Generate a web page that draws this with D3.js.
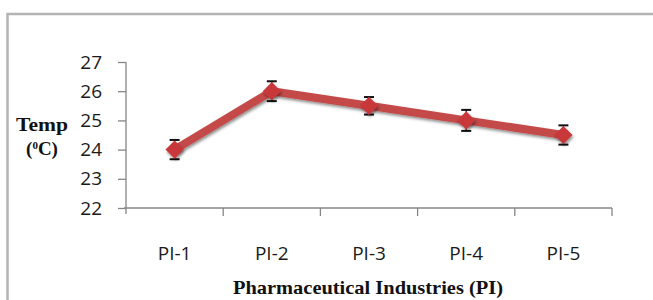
<!DOCTYPE html>
<html>
<head>
<meta charset="utf-8">
<script src="https://cdn.jsdelivr.net/npm/d3@7"></script>
<style>
  body { margin: 0; background: #fff; }
  svg { display: block; }
</style>
</head>
<body>
<svg id="chart" width="653" height="300"></svg>
<script>
// data
var categories = ["PI-1", "PI-2", "PI-3", "PI-4", "PI-5"];
var temps = [24.0, 26.0, 25.5, 25.0, 24.5];
var errors = [0.33, 0.34, 0.3, 0.36, 0.33];
var yTicks = [22, 23, 24, 25, 26, 27];

var margin = {top: 62, right: 41, bottom: 92, left: 126},
    width = 653 - margin.left - margin.right,
    height = 300 - margin.top - margin.bottom;

var svg = d3.select("#chart");

// outer frame (goes past the right and bottom edges)
svg.append("path")
    .attr("d", "M7.5,300 V14 H653")
    .attr("fill", "none")
    .attr("stroke", "#b4b4b4")
    .attr("stroke-width", 2.5);

var defs = svg.append("defs");
var shadow = defs.append("filter").attr("id", "shadow")
    .attr("x", "-50%").attr("y", "-50%").attr("width", "200%").attr("height", "200%");
shadow.append("feDropShadow")
    .attr("dx", 1).attr("dy", 2).attr("stdDeviation", 1.5)
    .attr("flood-color", "#000").attr("flood-opacity", 0.45);

var g = svg.append("g")
    .attr("transform", "translate(" + margin.left + "," + margin.top + ")");

var x = d3.scaleBand().domain(categories).range([0, width]);
var y = d3.scaleLinear().domain([22, 27]).range([height, 0]);

// y axis
var yAxis = g.append("g")
    .call(d3.axisLeft(y).tickValues(yTicks).tickFormat(d3.format("d"))
      .tickSize(8).tickPadding(16).tickSizeOuter(0));
yAxis.select(".domain").attr("stroke", "#868686").attr("stroke-width", 1.3)
    .attr("d", "M0,0 V" + (height + 6));
yAxis.selectAll(".tick line").attr("stroke", "#868686").attr("stroke-width", 1.3);
yAxis.selectAll(".tick text")
    .attr("fill", "#1a1a1a")
    .style("font-family", "'Open Sans', sans-serif")
    .style("font-size", "19px");

// x axis, ticks at band edges
var xAxisG = g.append("g").attr("transform", "translate(0," + height + ")");
xAxisG.append("line")
    .attr("x1", -2).attr("x2", width)
    .attr("stroke", "#868686").attr("stroke-width", 1.3);
var edges = categories.map(function(c) { return x(c) + x.bandwidth(); });
xAxisG.selectAll(".xt").data(edges).enter().append("line")
    .attr("x1", function(d) { return d; }).attr("x2", function(d) { return d; })
    .attr("y1", 0).attr("y2", 8)
    .attr("stroke", "#868686").attr("stroke-width", 1.3);
xAxisG.selectAll(".xl").data(categories).enter().append("text")
    .attr("x", function(d) { return x(d) + x.bandwidth() / 2; })
    .attr("y", 52)
    .attr("text-anchor", "middle")
    .attr("fill", "#1a1a1a")
    .style("font-family", "'Open Sans', sans-serif")
    .style("font-size", "19px")
    .text(function(d) { return d; });

// axis titles
svg.append("text")
    .attr("x", 368).attr("y", 294)
    .attr("text-anchor", "middle")
    .attr("fill", "#111")
    .attr("textLength", 270)
    .attr("lengthAdjust", "spacingAndGlyphs")
    .style("font-family", "'Liberation Serif', serif")
    .style("font-weight", "bold")
    .style("font-size", "19px")
    .text("Pharmaceutical Industries (PI)");

var yTitle = svg.append("text")
    .attr("text-anchor", "middle")
    .attr("fill", "#111")
    .style("font-family", "'Liberation Serif', serif")
    .style("font-weight", "bold")
    .style("font-size", "19px");
yTitle.append("tspan").attr("x", 42).attr("y", 131)
    .attr("textLength", 52).attr("lengthAdjust", "spacingAndGlyphs").text("Temp");
var t2 = yTitle.append("tspan").attr("x", 42).attr("y", 155);
t2.append("tspan").text("(");
t2.append("tspan").attr("dy", -6).style("font-size", "11px").text("0");
t2.append("tspan").attr("dy", 6).text("C)");

// series line
var line = d3.line()
    .x(function(d, i) { return x(categories[i]) + x.bandwidth() / 2; })
    .y(function(d) { return y(d); });

g.append("path")
    .datum(temps)
    .attr("d", line)
    .attr("fill", "none")
    .attr("stroke", "#c44a48")
    .attr("stroke-width", 8)
    .attr("stroke-linejoin", "round")
    .attr("filter", "url(#shadow)");

// error bars (drawn under the markers, caps stick out)
var eb = g.selectAll(".err").data(temps).enter().append("g")
    .attr("transform", function(d, i) {
      return "translate(" + (x(categories[i]) + x.bandwidth() / 2) + ",0)";
    });
eb.append("line")
    .attr("y1", function(d, i) { return y(d - errors[i]); })
    .attr("y2", function(d, i) { return y(d + errors[i]); })
    .attr("stroke", "#111").attr("stroke-width", 1.2);
[-1, 1].forEach(function(s) {
  eb.append("line")
      .attr("x1", -5).attr("x2", 5)
      .attr("y1", function(d, i) { return y(d + s * errors[i]); })
      .attr("y2", function(d, i) { return y(d + s * errors[i]); })
      .attr("stroke", "#111").attr("stroke-width", 2);
});

// markers
g.selectAll(".marker").data(temps).enter().append("path")
    .attr("class", "marker")
    .attr("transform", function(d, i) {
      return "translate(" + (x(categories[i]) + x.bandwidth() / 2) + "," + y(d) + ")";
    })
    .attr("d", d3.symbol().type(d3.symbolDiamond2).size(210))
    .attr("fill", "#c8383a")
    .attr("filter", "url(#shadow)");
</script>
</body>
</html>
